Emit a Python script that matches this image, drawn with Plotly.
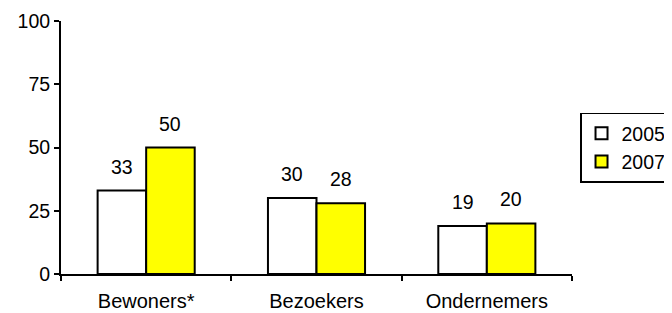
import plotly.graph_objects as go

categories = ["Bewoners*", "Bezoekers", "Ondernemers"]
series_names = ["2005", "2007"]
values_2005 = [33, 30, 19]
values_2007 = [50, 28, 20]
y_ticks = [0, 25, 50, 75, 100]

FONT = "Liberation Sans, Arial, sans-serif"
FS = 19.5

fig = go.Figure()
fig.add_trace(go.Bar(name=series_names[0], x=categories, y=values_2005,
                     marker=dict(color="white", line=dict(color="black", width=2))))
fig.add_trace(go.Bar(name=series_names[1], x=categories, y=values_2007,
                     marker=dict(color="#FFFF00", line=dict(color="black", width=2))))

half = 24.3
for vals, sh in [(values_2005, -half), (values_2007, half)]:
    for c, v in zip(categories, vals):
        fig.add_annotation(x=c, y=v, text=str(v), showarrow=False, xshift=sh,
                           yanchor="middle", yshift=24,
                           font=dict(family=FONT, size=FS, color="black"))

# page body has an 8px default margin, so the figure is sized to fit the window
fig.update_layout(
    width=664, height=305,
    margin=dict(l=53, r=100, t=13, b=39, autoexpand=False),
    paper_bgcolor="white", plot_bgcolor="white",
    barmode="group", bargap=0.43, bargroupgap=0,
    font=dict(family=FONT, size=FS, color="black"),
    showlegend=True,
    legend=dict(x=1.0157, y=0.5, xanchor="left", yanchor="middle",
                bordercolor="black", borderwidth=1.5,
                font=dict(family=FONT, size=19.5, color="black"),
                itemwidth=30, tracegroupgap=0),
)
fig.update_xaxes(showline=True, linecolor="black", linewidth=2,
                 ticks="outside", tickson="boundaries", ticklen=5, tickwidth=1.5,
                 tickcolor="black", showgrid=False, automargin=False,
                 ticklabelstandoff=8, tickfont=dict(size=20))
fig.update_yaxes(range=[0, 100], tickvals=y_ticks, showline=True, linecolor="black",
                 linewidth=2, ticks="outside", ticklen=5, tickwidth=1.5, tickcolor="black",
                 showgrid=False, zeroline=False, automargin=False)

fig.write_html("out.html")
